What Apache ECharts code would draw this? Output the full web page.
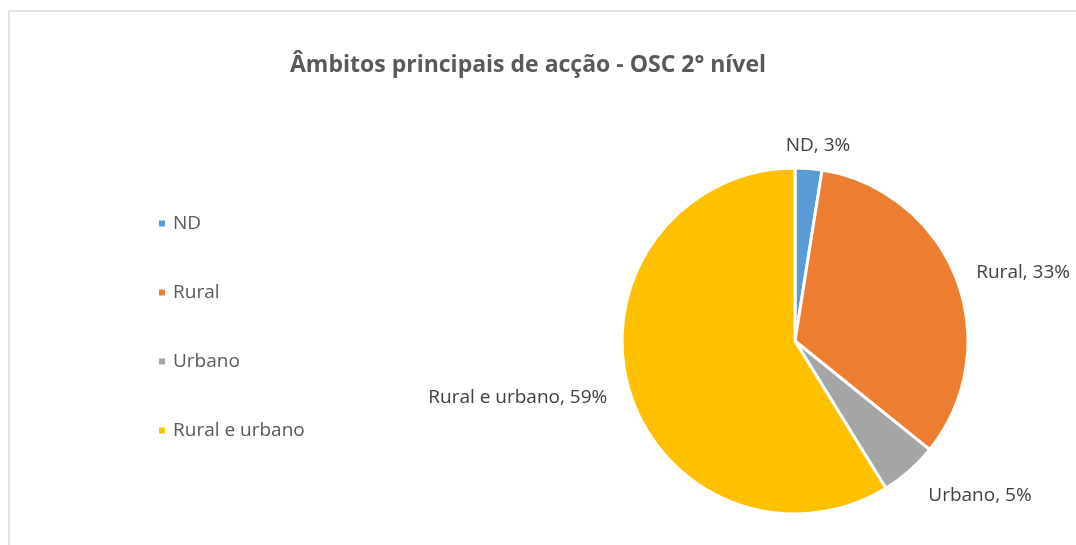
<!DOCTYPE html>
<html>
<head>
<meta charset="utf-8">
<script src="https://cdn.jsdelivr.net/npm/echarts@6/dist/echarts.min.js"></script>
<style>
  html, body { margin: 0; padding: 0; background: #fff; }
  #chart { width: 1076px; height: 545px; }
</style>
</head>
<body>
<div id="chart"></div>
<script>
// dados
var categorias = ['ND', 'Rural', 'Urbano', 'Rural e urbano'];
var valores = [2.5, 33.3, 5.4, 58.8];
var cores = ['#5b9bd5', '#ed7d31', '#a5a5a5', '#ffc000'];
var titulo = 'Âmbitos principais de acção - OSC 2° nível';

(function(){
    var fonte = '"Open Sans", "Noto Sans", sans-serif';
    var dados = [];
    for (var i = 0; i < categorias.length; i++) {
        dados.push({name: categorias[i], value: valores[i], itemStyle: {color: cores[i]}});
    }

    var chart = echarts.init(document.getElementById('chart'), null, {renderer: 'canvas'});
    var option = {
        backgroundColor: '#fff',
        animation: false,
        graphic: [{
            type: 'rect',
            shape: {x: 9, y: 11, width: 1080, height: 560},
            style: {fill: 'none', stroke: '#d9d9d9', lineWidth: 1.5},
            silent: true
        }],
        title: {
            text: titulo,
            left: 285,
            top: 49,
            textStyle: {fontFamily: fonte, fontSize: 23, fontWeight: 'bold', color: '#595959'}
        },
        legend: {
            orient: 'vertical',
            left: 152,
            top: 209,
            itemWidth: 8,
            itemHeight: 8,
            itemGap: 50,
            icon: 'rect',
            data: categorias,
            textStyle: {fontFamily: fonte, fontSize: 19, color: '#595959', padding: [0, 0, 0, 2]}
        },
        series: [{
            type: 'pie',
            center: [795, 341],
            radius: 173,
            startAngle: 90,
            clockwise: true,
            percentPrecision: 0,
            data: dados,
            itemStyle: {borderColor: '#fff', borderWidth: 3},
            label: {
                show: true,
                position: 'outside',
                overflow: 'none',
                formatter: '{b}, {d}%',
                fontFamily: fonte,
                fontSize: 19,
                color: '#404040'
            },
            labelLine: {show: false, length: 18, length2: 2},
            labelLayout: function(p){
                if (p.dataIndex === 0) return {align: 'center', dx: 1, dy: -5};
                if (p.dataIndex === 1) return {dx: -4};
                if (p.dataIndex === 2) return {dy: 11};
                if (p.dataIndex === 3) return {dx: 3, dy: 4};
            },
            emphasis: {disabled: true}
        }]
    };
    chart.setOption(option);
})();
</script>
</body>
</html>
